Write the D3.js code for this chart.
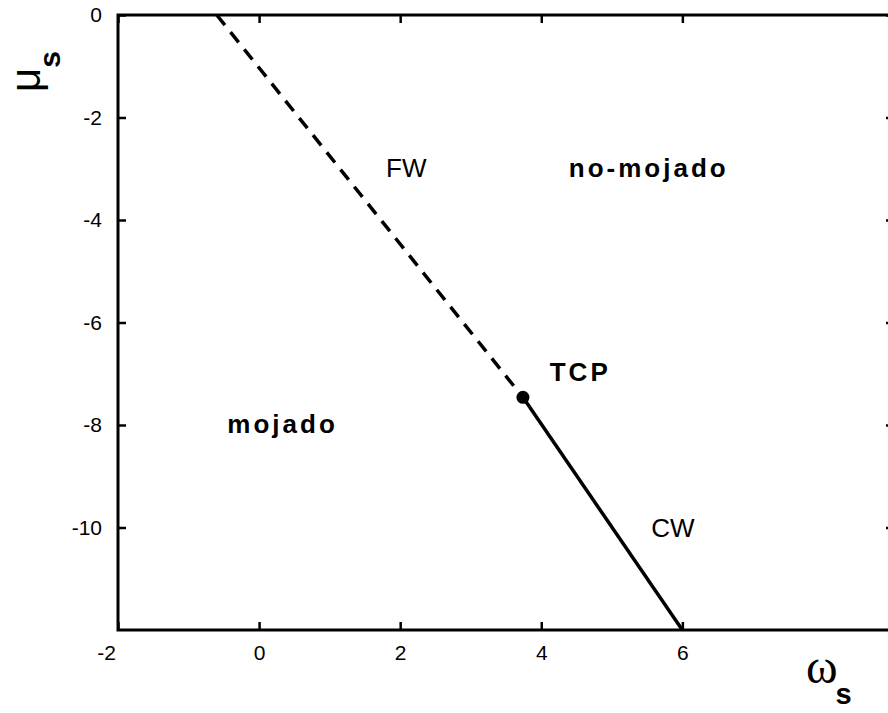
<!DOCTYPE html>
<html>
<head>
<meta charset="utf-8">
<script src="https://cdn.jsdelivr.net/npm/d3@7"></script>
<style>
  body { margin: 0; background: #fff; }
  svg { display: block; font-family: Arial, "Liberation Sans", sans-serif; }
</style>
</head>
<body>
<svg width="888" height="713"></svg>
<script>
// phase line: dashed part (first-order wetting) and solid part (critical wetting)
const dashedOmega = [-0.6, 3.74];
const dashedMu = [0, -7.46];
const solidOmega = [3.74, 6.0];
const solidMu = [-7.46, -12];
const tcp = { omega: 3.74, mu: -7.46 };

const xTicks = [-2, 0, 2, 4, 6];
const yTicks = [0, -2, -4, -6, -8, -10];

// region labels, anchored at their left edge / baseline
const labels = [
  { text: "FW", omega: 1.80, mu: -3.16, bold: false },
  { text: "no-mojado", omega: 4.39, mu: -3.16, bold: true },
  { text: "TCP", omega: 4.12, mu: -7.14, bold: true },
  { text: "mojado", omega: -0.45, mu: -8.16, bold: true },
  { text: "CW", omega: 5.56, mu: -10.19, bold: false },
];

const svg = d3.select("svg");
const plotLeft = 118, plotRight = 894, plotTop = 15, plotBottom = 630;

const x = d3.scaleLinear().domain([-2, 9]).range([plotLeft, plotRight]);
const y = d3.scaleLinear().domain([-12, 0]).range([plotBottom, plotTop]);

const tickLen = 8;
const fmt = d => String(d);

// frame
svg.append("rect")
  .attr("x", plotLeft).attr("y", plotTop)
  .attr("width", plotRight - plotLeft).attr("height", plotBottom - plotTop)
  .attr("fill", "none").attr("stroke", "#000").attr("stroke-width", 3);

const bottomAxis = svg.append("g")
  .attr("transform", `translate(0,${plotBottom})`)
  .call(d3.axisBottom(x).tickValues(xTicks).tickSize(-tickLen).tickPadding(15).tickFormat(fmt));
const topAxis = svg.append("g")
  .attr("transform", `translate(0,${plotTop})`)
  .call(d3.axisTop(x).tickValues(xTicks).tickSize(-tickLen).tickFormat(""));
const leftAxis = svg.append("g")
  .attr("transform", `translate(${plotLeft},0)`)
  .call(d3.axisLeft(y).tickValues(yTicks).tickSize(-tickLen).tickPadding(16).tickFormat(fmt));
const rightAxis = svg.append("g")
  .attr("transform", `translate(${plotRight},0)`)
  .call(d3.axisRight(y).tickValues(yTicks).tickSize(-tickLen).tickFormat(""));

[bottomAxis, topAxis, leftAxis, rightAxis].forEach(g => {
  g.select(".domain").remove();
  g.attr("font-size", 21).attr("font-family", "Arial, 'Liberation Sans', sans-serif");
  g.selectAll(".tick line").attr("stroke", "#000").attr("stroke-width", 2.5);
  g.selectAll(".tick text").attr("fill", "#000");
});
// the -2 label sits a bit left of its tick, clear of the frame corner
bottomAxis.selectAll(".tick text").filter(d => d === -2).attr("dx", -12);

const line = d3.line().x(d => x(d[0])).y(d => y(d[1]));

svg.append("path")
  .datum(d3.zip(dashedOmega, dashedMu))
  .attr("d", line)
  .attr("fill", "none").attr("stroke", "#000").attr("stroke-width", 3.5)
  .attr("stroke-dasharray", "13,9");

svg.append("path")
  .datum(d3.zip(solidOmega, solidMu))
  .attr("d", line)
  .attr("fill", "none").attr("stroke", "#000").attr("stroke-width", 3.5);

svg.append("circle")
  .attr("cx", x(tcp.omega)).attr("cy", y(tcp.mu)).attr("r", 6.5)
  .attr("fill", "#000");

svg.selectAll("text.region")
  .data(labels)
  .join("text")
  .attr("class", "region")
  .attr("x", d => x(d.omega))
  .attr("y", d => y(d.mu))
  .style("font-size", "26px")
  .style("font-weight", d => d.bold ? "bold" : "normal")
  .style("letter-spacing", d => d.bold ? "3px" : "0px")
  .text(d => d.text);

// axis titles
const yTitle = svg.append("text")
  .attr("transform", "translate(40,92) rotate(-90)")
  .style("font-size", "42px");
yTitle.append("tspan").text("μ");
yTitle.append("tspan").attr("dy", 20).style("font-size", "30px").style("font-weight", "bold").text("s");

const xTitle = svg.append("text")
  .attr("x", 806).attr("y", 683)
  .style("font-size", "48px");
xTitle.append("tspan").style("font-family", "'Liberation Serif', serif").text("ω");
xTitle.append("tspan").attr("dy", 21).attr("dx", -2).style("font-size", "29px").style("font-weight", "bold").text("s");
</script>
</body>
</html>
